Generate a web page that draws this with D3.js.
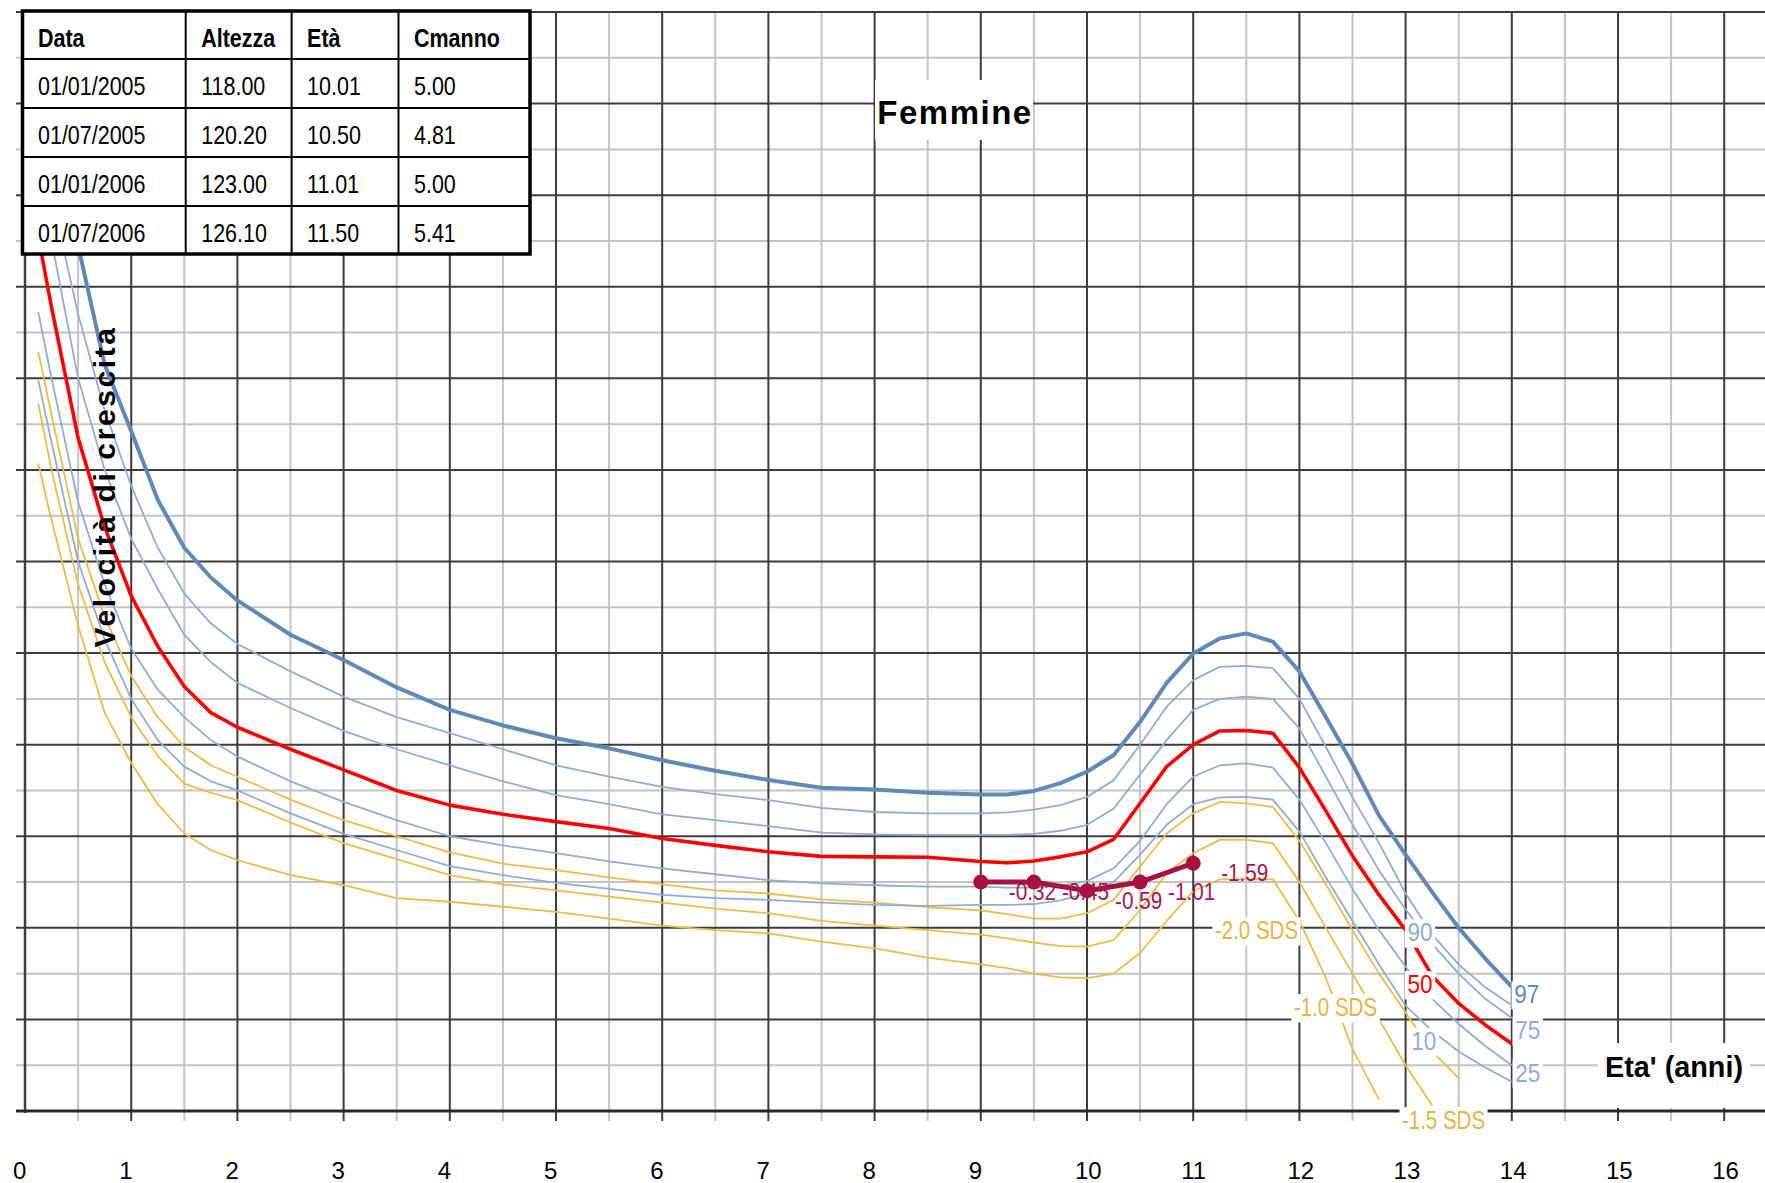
<!DOCTYPE html>
<html>
<head>
<meta charset="utf-8">
<script src="https://cdn.jsdelivr.net/npm/d3@7"></script>
<style>
  html, body { margin: 0; padding: 0; background: #ffffff; }
  svg { display: block; }
</style>
</head>
<body>
<svg id="chart" width="1765" height="1183"></svg>
<script>
// ---- Reference growth-velocity curves (cm/anno) for girls, by age (anni) ----
const ages = [0.125, 0.25, 0.5, 0.75, 1, 1.25, 1.5, 1.75, 2, 2.5, 3, 3.5, 4, 4.5, 5, 5.5, 6, 6.5, 7, 7.5,
  8, 8.5, 9, 9.25, 9.5, 9.75, 10, 10.25, 10.5, 10.75, 11, 11.25, 11.5, 11.75, 12, 12.25, 12.5, 12.75,
  13, 13.25, 13.5, 13.75, 14];

const p97 = [24.0, 22.4, 18.9, 16.3, 14.85, 13.35, 12.3, 11.65, 11.15, 10.4, 9.85, 9.25, 8.76, 8.42, 8.14, 7.92,
  7.66, 7.43, 7.23, 7.06, 7.02, 6.95, 6.91, 6.91, 6.99, 7.16, 7.41, 7.77, 8.5, 9.35, 9.99, 10.32, 10.43, 10.25,
  9.6, 8.6, 7.58, 6.45, 5.6, 4.78, 4.0, 3.33, 2.71];
const p90 = [21.8, 20.0, 17.4, 15.3, 13.65, 12.3, 11.3, 10.65, 10.2, 9.6, 9.05, 8.6, 8.25, 7.9, 7.55, 7.3,
  7.08, 6.92, 6.79, 6.62, 6.53, 6.5, 6.5, 6.52, 6.58, 6.68, 6.86, 7.22, 8.0, 8.83, 9.41, 9.7, 9.72, 9.67,
  9.0, 7.95, 6.85, 5.85, 4.75, 3.85, 3.2, 2.7, 2.31];
const p75 = [20.5, 19.0, 16.0, 14.0, 12.5, 11.4, 10.4, 9.8, 9.35, 8.8, 8.3, 7.9, 7.55, 7.2, 6.9, 6.7,
  6.48, 6.35, 6.22, 6.08, 6.04, 6.03, 6.03, 6.03, 6.05, 6.12, 6.25, 6.6, 7.35, 8.1, 8.76, 9.0, 9.05, 9.0,
  8.35, 7.3, 6.25, 5.25, 4.4, 3.65, 3.0, 2.45, 2.03];
const p50 = [19.1, 17.55, 14.7, 12.75, 11.25, 10.15, 9.27, 8.7, 8.38, 7.9, 7.45, 7.0, 6.68, 6.48, 6.32, 6.17,
  5.95, 5.8, 5.66, 5.56, 5.55, 5.54, 5.45, 5.42, 5.46, 5.55, 5.66, 5.93, 6.72, 7.52, 8.0, 8.3, 8.31, 8.25,
  7.5, 6.55, 5.57, 4.72, 3.95, 2.95, 2.35, 1.88, 1.47];
const p25 = [17.45, 16.0, 13.3, 11.5, 10.1, 9.2, 8.6, 8.1, 7.74, 7.2, 6.75, 6.35, 6.0, 5.8, 5.63, 5.45,
  5.3, 5.17, 5.04, 4.97, 4.93, 4.9, 4.9, 4.88, 4.88, 4.92, 5.02, 5.3, 5.9, 6.7, 7.3, 7.55, 7.59, 7.5,
  6.8, 5.85, 4.85, 3.95, 3.15, 2.45, 1.9, 1.42, 1.0];
const p10 = [15.96, 14.6, 12.0, 10.3, 9.0, 8.1, 7.52, 7.2, 7.0, 6.5, 6.05, 5.7, 5.35, 5.15, 4.98, 4.85,
  4.72, 4.65, 4.61, 4.55, 4.5, 4.48, 4.5, 4.5, 4.52, 4.6, 4.75, 5.0, 5.6, 6.25, 6.7, 6.85, 6.86, 6.8,
  6.1, 5.1, 4.15, 3.2, 2.3, 1.75, 1.3, 0.95, 0.64];
const sdsMinus10 = [16.58, 15.2, 12.5, 10.8, 9.5, 8.6, 7.95, 7.55, 7.3, 6.8, 6.35, 6.0, 5.65, 5.4, 5.26, 5.1,
  4.95, 4.82, 4.75, 4.62, 4.55, 4.45, 4.38, 4.3, 4.2, 4.2, 4.32, 4.61, 5.34, 6.06, 6.5, 6.75, 6.72, 6.64,
  5.9, 4.95, 3.95, 3.0, 2.15, 1.3, 0.72, null, null];
const sdsMinus15 = [15.45, 14.0, 11.5, 9.8, 8.6, 7.75, 7.15, 6.95, 6.79, 6.3, 5.85, 5.5, 5.15, 4.95, 4.82, 4.68,
  4.55, 4.42, 4.32, 4.15, 4.05, 3.95, 3.85, 3.77, 3.68, 3.6, 3.59, 3.73, 4.39, 5.19, 5.63, 5.92, 5.92, 5.85,
  5.0, 4.0, 3.0, 2.0, 1.0, 0.12, null, null, null];
const sdsMinus20 = [14.14, 12.9, 10.6, 8.7, 7.6, 6.7, 6.06, 5.7, 5.48, 5.15, 4.93, 4.65, 4.57, 4.46, 4.35, 4.2,
  4.05, 3.95, 3.88, 3.7, 3.55, 3.35, 3.2, 3.12, 3.0, 2.92, 2.9, 3.0, 3.45, 4.15, 4.8, 5.06, 5.06, 5.06,
  4.15, 2.9, 1.35, 0.25, null, null, null, null, null];

// ---- Patient measurements ----
const patientAges = [9, 9.5, 10, 10.5, 11];
const patientVelocity = [5.00, 5.00, 4.81, 5.00, 5.41];
const patientSds = ["-0.32", "-0.45", "-0.59", "-1.01", "-1.59"];

// ---- Table of visits ----
const tableHeader = ["Data", "Altezza", "Età", "Cmanno"];
const visitDates = ["01/01/2005", "01/07/2005", "01/01/2006", "01/07/2006"];
const visitHeights = ["118.00", "120.20", "123.00", "126.10"];
const visitAges = ["10.01", "10.50", "11.01", "11.50"];
const visitVelocity = ["5.00", "4.81", "5.00", "5.41"];

// ---- Axis ticks ----
const xTickValues = d3.range(0, 17);

// ---- Curve labels (text, age, velocity of the label centre) ----
const curveLabelText = ["97", "75", "25", "90", "50", "10", "-2.0 SDS", "-1.0 SDS", "-1.5 SDS"];
const curveLabelAge  = [14.14, 14.15, 14.15, 13.136, 13.136, 13.17, 11.596, 12.34, 13.357];
const curveLabelVel  = [2.55, 1.77, 0.84, 3.9, 2.77, 1.53, 3.95, 2.27, -0.2];

// ================= drawing =================
const W = 1765, H = 1183;
const FONT = "'Liberation Sans', Arial, Helvetica, sans-serif";
const svg = d3.select("#chart");

const x = d3.scaleLinear().domain([0, 16.4]).range([25, 25 + 16.4 * 106.2]);
const y = d3.scaleLinear().domain([0, 24]).range([1111, 12]);

const minorColor = "#c4c4c4", majorColor = "#3c3c3c";

// grid: half-year / odd-cm lines first (light), then whole-year / even-cm lines (dark)
const grid = svg.append("g");
const halfYears = d3.range(0.5, 16.5, 1);
const wholeYears = d3.range(1, 17, 1);
const oddCm = d3.range(1, 24, 2);
const evenCm = d3.range(2, 25, 2);

grid.selectAll("line.vminor").data(halfYears).join("line")
  .attr("x1", d => x(d)).attr("x2", d => x(d))
  .attr("y1", y(24)).attr("y2", y(0) + 10)
  .attr("stroke", minorColor).attr("stroke-width", 2);
grid.selectAll("line.hminor").data(oddCm).join("line")
  .attr("x1", 16).attr("x2", W)
  .attr("y1", d => y(d)).attr("y2", d => y(d))
  .attr("stroke", minorColor).attr("stroke-width", 2);
grid.selectAll("line.vmajor").data(wholeYears).join("line")
  .attr("x1", d => x(d)).attr("x2", d => x(d))
  .attr("y1", y(24)).attr("y2", y(0) + 10)
  .attr("stroke", majorColor).attr("stroke-width", 2);
grid.selectAll("line.hmajor").data(evenCm).join("line")
  .attr("x1", 16).attr("x2", W)
  .attr("y1", d => y(d)).attr("y2", d => y(d))
  .attr("stroke", majorColor).attr("stroke-width", 2);

// axes lines
grid.append("line").attr("x1", x(0)).attr("x2", x(0)).attr("y1", y(24)).attr("y2", y(0) + 2)
  .attr("stroke", majorColor).attr("stroke-width", 2.5);
grid.append("line").attr("x1", 16).attr("x2", W).attr("y1", y(0)).attr("y2", y(0))
  .attr("stroke", "#2a2a2a").attr("stroke-width", 3);

// x tick labels
const xAxis = d3.axisBottom(x).tickValues(xTickValues).tickFormat(d3.format("d")).tickSize(0).tickPadding(0);
const gx = svg.append("g").attr("transform", `translate(0,${y(0)})`).call(xAxis);
gx.select(".domain").remove();
gx.selectAll("text")
  .attr("text-anchor", "start").attr("x", -12.5).attr("y", 68).attr("dy", null)
  .attr("fill", "#000").style("font-family", FONT).style("font-size", "24px");

// clip for the plot area
svg.append("defs").append("clipPath").attr("id", "plotClip")
  .append("rect").attr("x", x(0)).attr("y", y(24)).attr("width", W - x(0)).attr("height", y(0) - y(24));

const series = [
  { values: sdsMinus20, color: "#efbb45", width: 1.8 },
  { values: sdsMinus15, color: "#efbb45", width: 1.8 },
  { values: sdsMinus10, color: "#efbb45", width: 1.8 },
  { values: p10, color: "#8eaed4", width: 1.8 },
  { values: p25, color: "#8eaed4", width: 1.8 },
  { values: p75, color: "#8eaed4", width: 1.8 },
  { values: p90, color: "#8eaed4", width: 1.8 },
  { values: p50, color: "#ff0000", width: 3.6 },
  { values: p97, color: "#5f89b8", width: 4 }
];

const line = d3.line()
  .defined(d => d[1] !== null)
  .x(d => x(d[0])).y(d => y(d[1]));

const curves = svg.append("g").attr("clip-path", "url(#plotClip)");
curves.selectAll("path").data(series).join("path")
  .attr("d", s => line(ages.map((a, i) => [a, s.values[i]])))
  .attr("fill", "none")
  .attr("stroke", s => s.color)
  .attr("stroke-width", s => s.width)
  .attr("stroke-linejoin", "round");

// curve labels with white boxes
const labelColor = t => t.includes("SDS") ? "#e8b443" : (t === "50" ? "#ff0000" : (t === "97" ? "#6189b7" : "#8eadd3"));
const labels = svg.append("g");
curveLabelText.forEach((t, i) => {
  const g = labels.append("g");
  const isSds = t.includes("SDS");
  const txt = g.append("text")
    .attr("x", 0).attr("y", 0)
    .attr("text-anchor", "middle").attr("dy", "0.36em")
    .attr("fill", labelColor(t))
    .style("font-family", FONT).style("font-size", "25px")
    .text(t);
  const sx = isSds ? 0.82 : 0.9;
  g.attr("transform", `translate(${x(curveLabelAge[i])},${y(curveLabelVel[i])}) scale(${sx},1)`);
  const bb = txt.node().getBBox();
  g.insert("rect", "text")
    .attr("x", bb.x - 3).attr("y", bb.y + 1).attr("width", bb.width + 6).attr("height", bb.height)
    .attr("fill", "#ffffff");
});

// patient series
const patient = svg.append("g");
const pts = patientAges.map((a, i) => [a, patientVelocity[i]]);
patient.append("path")
  .attr("d", d3.line().x(d => x(d[0])).y(d => y(d[1]))(pts))
  .attr("fill", "none").attr("stroke", "#a8103f").attr("stroke-width", 5);
patient.selectAll("circle").data(pts).join("circle")
  .attr("cx", d => x(d[0])).attr("cy", d => y(d[1])).attr("r", 7.5)
  .attr("fill", "#a8103f");
patient.selectAll("text").data(pts).join("text")
  .attr("transform", d => `translate(${x(d[0]) + 28},${y(d[1]) + 18}) scale(0.9,1)`)
  .attr("fill", "#a8164a")
  .style("font-family", FONT).style("font-size", "23px")
  .text((d, i) => patientSds[i]);

// table of visits
const colX = [22.5, 185.7, 291.6, 398.5, 530];
const rowY = [11, 59, 108, 157, 206, 254];
const table = svg.append("g");
table.append("rect").attr("x", colX[0]).attr("y", rowY[0])
  .attr("width", colX[4] - colX[0]).attr("height", rowY[5] - rowY[0])
  .attr("fill", "#ffffff");
table.selectAll("line.col").data(colX.slice(1, 4)).join("line")
  .attr("x1", d => d).attr("x2", d => d).attr("y1", rowY[0]).attr("y2", rowY[5])
  .attr("stroke", "#000").attr("stroke-width", 2);
table.selectAll("line.row").data(rowY.slice(1, 5)).join("line")
  .attr("x1", colX[0]).attr("x2", colX[4]).attr("y1", d => d).attr("y2", d => d)
  .attr("stroke", "#000").attr("stroke-width", 2);
table.append("rect").attr("x", colX[0]).attr("y", rowY[0])
  .attr("width", colX[4] - colX[0]).attr("height", rowY[5] - rowY[0])
  .attr("fill", "none").attr("stroke", "#000").attr("stroke-width", 3.5);

const tableRows = [tableHeader].concat(visitDates.map((d, i) => [d, visitHeights[i], visitAges[i], visitVelocity[i]]));
tableRows.forEach((row, r) => {
  row.forEach((cell, c) => {
    table.append("text")
      .attr("transform", `translate(${colX[c] + 15.5},${rowY[r] + 36}) scale(0.86,1)`)
      .attr("fill", "#000")
      .style("font-family", FONT).style("font-size", "25px")
      .style("font-weight", r === 0 ? "bold" : "normal")
      .text(cell);
  });
});

// chart title
svg.append("rect").attr("x", 875).attr("y", 80).attr("width", 158).attr("height", 60).attr("fill", "#fff");
svg.append("text").attr("x", 955).attr("y", 123.5).attr("text-anchor", "middle")
  .attr("fill", "#000").style("font-family", FONT).style("font-size", "33px").style("font-weight", "bold")
  .style("letter-spacing", "1.5px")
  .text("Femmine");

// y axis title
svg.append("text")
  .attr("transform", "translate(115,486.5) rotate(-90)")
  .attr("text-anchor", "middle")
  .attr("fill", "#000").style("font-family", FONT).style("font-size", "30px").style("font-weight", "bold")
  .style("letter-spacing", "2.6px")
  .text("Velocità di crescita");

// x axis title
svg.append("rect").attr("x", 1598).attr("y", 1043).attr("width", 152).attr("height", 65).attr("fill", "#fff");
svg.append("text")
  .attr("transform", "translate(1605,1077) scale(0.96,1)")
  .attr("fill", "#000").style("font-family", FONT).style("font-size", "30px").style("font-weight", "bold")
  .text("Eta' (anni)");
</script>
</body>
</html>
